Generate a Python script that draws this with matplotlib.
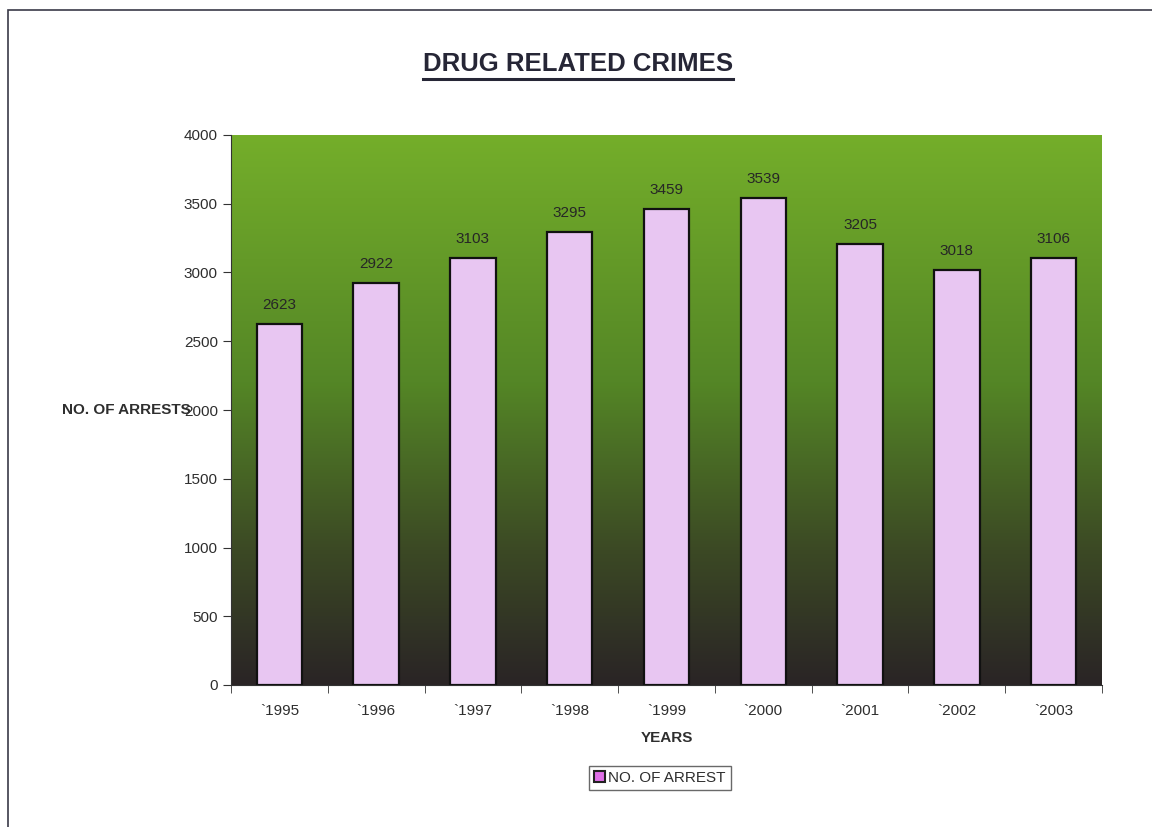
import matplotlib
matplotlib.use("Agg")
import matplotlib.pyplot as plt
import numpy as np
from matplotlib.colors import LinearSegmentedColormap
from matplotlib.patches import Rectangle
from matplotlib.lines import Line2D

years = ["`1995", "`1996", "`1997", "`1998", "`1999", "`2000", "`2001", "`2002", "`2003"]
arrests = [2623, 2922, 3103, 3295, 3459, 3539, 3205, 3018, 3106]
title = "DRUG RELATED CRIMES"
series_name = "NO. OF ARREST"

plt.rcParams['font.family'] = ['Liberation Sans', 'DejaVu Sans']
W, H = 1152, 827
fig = plt.figure(figsize=(W / 100, H / 100), dpi=100)

# outer chart border (right / bottom edges run off the page)
fig.patches.append(Rectangle((8 / W, -0.05), 1.2, 1 - 10 / H + 0.05, transform=fig.transFigure,
                             fill=False, edgecolor='#3a3a48', lw=1.2))

ax = fig.add_axes([231 / W, 1 - 685 / H, (1102 - 231) / W, (685 - 135) / H])

# green -> dark gradient plot area
grad = LinearSegmentedColormap.from_list(
    "bg", [(0.0, "#2a2426"), (0.25, "#3c4a24"), (0.55, "#548626"), (1.0, "#74ae2a")])
ax.imshow(np.linspace(0, 1, 256).reshape(-1, 1), cmap=grad, aspect='auto', origin='lower',
          extent=[-0.5, len(years) - 0.5, 0, 4000], zorder=0)

x = np.arange(len(years))
bars = ax.bar(x, arrests, width=0.47, color='#e8c6f2', edgecolor='#111111', linewidth=1.6, zorder=2)
for xi, v in zip(x, arrests):
    ax.text(xi, v + 90, str(v), ha='center', va='bottom', fontsize=11, color='#262626', zorder=3)

ax.set_xlim(-0.5, len(years) - 0.5)
ax.set_ylim(0, 4000)
ax.set_yticks(np.arange(0, 4001, 500))
ax.set_xticks(x)
ax.set_xticklabels(years)
ax.set_xticks(np.arange(-0.5, len(years)), minor=True)
ax.tick_params(axis='x', which='major', length=0, pad=14, labelsize=11, labelcolor='#2e2e2e')
ax.tick_params(axis='x', which='minor', length=6, direction='out', color='#333333')
ax.tick_params(axis='y', length=6, direction='out', labelsize=11, labelcolor='#2e2e2e', color='#333333')
for s in ['top', 'right']:
    ax.spines[s].set_visible(False)
for s in ['left', 'bottom']:
    ax.spines[s].set_color('#333333')

fig.text(62 / W, 1 - 410 / H, "NO. OF ARRESTS", ha='left', va='center', fontsize=11,
         fontweight='bold', color='#2e2e2e')
fig.text((231 + 1102) / 2 / W, 1 - 738 / H, "YEARS", ha='center', va='center', fontsize=11,
         fontweight='bold', color='#2e2e2e')

# title with underline
t = fig.text(578 / W, 1 - 64 / H, title, ha='center', va='center', fontsize=18.5,
             fontweight='bold', color='#262636')
fig.canvas.draw()
bb = t.get_window_extent()
fig.lines.append(Line2D([bb.x0 / W, bb.x1 / W], [(bb.y0 - 3) / H, (bb.y0 - 3) / H],
                        transform=fig.transFigure, color='#262636', lw=2.2))

handle = Rectangle((0, 0), 1, 1, facecolor='#e070e8', edgecolor='#222222', lw=1.5)
leg = fig.legend([handle], [series_name], loc='center', bbox_to_anchor=(660 / W, 1 - 778 / H),
                 fontsize=11, frameon=True, fancybox=False, handlelength=0.7, handleheight=0.7,
                 handletextpad=0.2, borderpad=0.35, labelcolor='#2e2e2e')
leg.get_frame().set_edgecolor('#444444')
leg.get_frame().set_linewidth(1.0)

fig.savefig("out.png", dpi=100)
